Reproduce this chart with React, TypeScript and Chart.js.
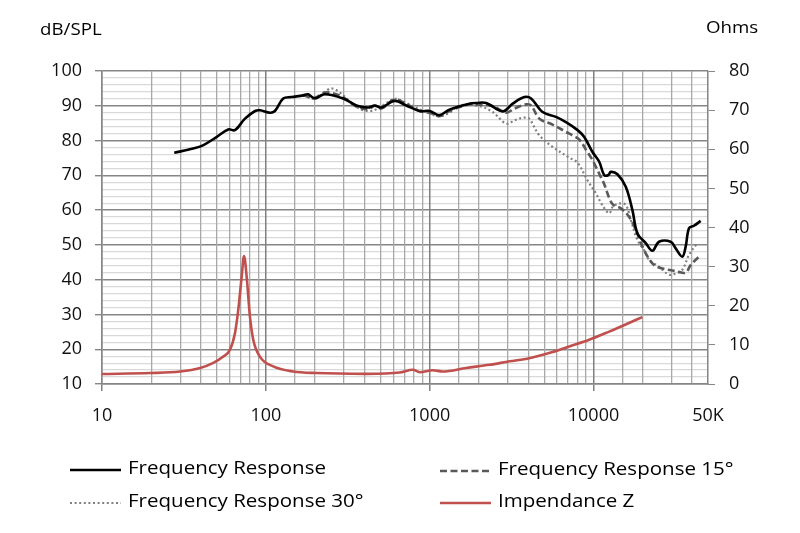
import { useEffect, useRef } from 'react';
import Chart from 'chart.js/auto';

const FONT = "'Open Sans', sans-serif";

// on-axis response (black)
const respFreq = [27.6, 36, 41.6, 50, 59, 64.8, 74.6, 86, 92, 106, 113.6, 127.7, 143.5, 169, 181, 199, 229, 296, 357, 421, 462, 507, 611, 720, 868, 1000, 1148, 1320, 1750, 1924, 2213, 2794, 3213, 3786, 4160, 4890, 5900, 6790, 8000, 8780, 9860, 10840, 11620, 12340, 12760, 14000, 15740, 17280, 18540, 20840, 22870, 25120, 29580, 31740, 34830, 36530, 38280, 41040, 45100];
const respDb = [76.5, 77.7, 78.7, 81.0, 83.2, 83.0, 86.3, 88.5, 88.7, 88.0, 88.5, 92.1, 92.5, 93.0, 93.3, 92.1, 93.3, 92.1, 90.1, 89.5, 90.1, 89.5, 91.4, 90.1, 88.5, 88.5, 87.3, 88.9, 90.6, 90.8, 90.8, 88.4, 90.6, 92.5, 92.1, 88.2, 86.8, 85.3, 83.0, 81.0, 76.7, 73.9, 70.1, 70.1, 71.0, 70.3, 66.7, 60.0, 53.3, 50.5, 48.3, 50.9, 50.9, 49.0, 46.6, 49.5, 54.8, 55.5, 56.9];

// 15 degrees (dashed)
const resp15Freq = [169, 199, 229, 260, 296, 357, 421, 462, 507, 611, 720, 868, 1000, 1148, 1320, 1750, 1924, 2427, 2930, 3290, 3873, 4160, 4670, 5620, 6790, 7640, 8220, 9180, 9860, 10350, 11090, 11620, 12470, 13200, 14700, 16480, 18120, 20360, 23440, 27600, 31740, 36530, 39170, 44030];
const resp15Db = [93.0, 92.3, 93.8, 93.5, 92.5, 89.8, 89.0, 90.0, 89.2, 91.8, 90.5, 88.5, 88.0, 87.0, 88.5, 90.5, 90.4, 89.9, 88.0, 89.2, 90.4, 90.1, 86.3, 84.6, 82.5, 81.2, 80.2, 76.7, 74.4, 72.4, 69.5, 67.5, 63.5, 61.5, 60.5, 58.1, 54.3, 48.5, 44.2, 43.0, 42.5, 42.0, 44.2, 46.6];

// 30 degrees (dotted)
const resp30Freq = [169, 199, 229, 250, 280, 330, 380, 440, 507, 611, 720, 868, 1000, 1148, 1320, 1520, 2015, 2427, 2930, 3365, 3786, 4055, 4670, 5620, 7110, 8000, 9180, 10350, 11300, 12470, 13140, 14330, 15740, 16920, 18540, 20360, 21880, 25120, 29000, 31700, 34830, 38280, 43000];
const resp30Db = [93.0, 92.0, 94.0, 95.0, 94.0, 91.0, 89.0, 88.5, 89.8, 92.0, 90.8, 89.0, 87.8, 87.0, 88.0, 90.1, 89.9, 88.2, 84.9, 86.0, 86.6, 86.3, 81.5, 78.2, 75.1, 73.6, 68.6, 64.8, 61.5, 59.1, 61.0, 61.9, 61.5, 57.1, 51.4, 48.5, 45.7, 43.7, 41.4, 41.8, 42.8, 47.1, 50.5];

// impedance (ohms, right axis)
const impFreq = [10, 19.7, 30, 39.7, 47.8, 55, 60.4, 64.8, 67.9, 71.2, 73.6, 76.4, 80, 83.8, 92, 111, 147, 204, 411, 656, 790, 868, 1046, 1202, 1670, 2317, 3070, 4055, 5370, 7110, 9420, 12470, 16480, 19850];
const impOhm = [2.55, 2.8, 3.2, 4.1, 5.4, 7.0, 8.75, 13.0, 19.0, 27.4, 32.7, 27.4, 17.2, 11.3, 7.0, 4.5, 3.2, 2.8, 2.6, 2.95, 3.65, 3.0, 3.5, 3.2, 4.1, 4.9, 5.8, 6.6, 7.9, 9.6, 11.3, 13.4, 15.6, 17.1];

const xLabelValues = [10, 100, 1000, 10000, 50000];
const xLabelTexts = ['10', '100', '1000', '10000', '50K'];
const seriesNames = ['Frequency Response', 'Frequency Response 15°', 'Frequency Response 30°', 'Impendance Z'];

const isDecade = (v: number) => Math.abs(Math.log10(v) - Math.round(Math.log10(v))) < 1e-6;
const pts = (f: number[], v: number[]) => f.map((x, i) => ({ x, y: v[i] }));

function stretchText(ctx: CanvasRenderingContext2D, text: string, x: number, y: number, sx: number) {
  ctx.save();
  ctx.translate(x, y);
  ctx.scale(sx, 1);
  ctx.fillText(text, 0, 0);
  ctx.restore();
}

const sheetText = {
  id: 'sheetText',
  afterDraw(chart: any) {
    const ctx: CanvasRenderingContext2D = chart.ctx;
    ctx.save();
    ctx.fillStyle = '#000';
    ctx.textBaseline = 'middle';
    ctx.textAlign = 'left';
    ctx.font = `17px ${FONT}`;
    stretchText(ctx, 'dB/SPL', 40, 30, 1.1);
    stretchText(ctx, 'Ohms', 706, 28, 1.1);

    // legend, two columns
    const slots = [[70, 470], [440, 471], [70, 503], [440, 503]];
    chart.data.datasets.forEach((ds: any, i: number) => {
      const [lx, ly] = slots[i];
      ctx.save();
      ctx.strokeStyle = ds.borderColor;
      ctx.lineWidth = ds.borderWidth;
      ctx.setLineDash(ds.borderDash || []);
      ctx.beginPath();
      ctx.moveTo(lx, ly);
      ctx.lineTo(lx + 51, ly);
      ctx.stroke();
      ctx.restore();
      ctx.font = `18px ${FONT}`;
      stretchText(ctx, ds.label, lx + 58, ly - 1, 1.14);
    });
    ctx.restore();
  },
};

export default function App() {
  const canvasRef = useRef<HTMLCanvasElement>(null);
  const chartRef = useRef<Chart | null>(null);

  useEffect(() => {
    if (!canvasRef.current) return;
    if (chartRef.current) chartRef.current.destroy();

    const tickFont = { family: FONT, size: 18 };

    chartRef.current = new Chart(canvasRef.current, {
      type: 'line',
      data: {
        datasets: [
          {
            label: seriesNames[0],
            data: pts(respFreq, respDb),
            borderColor: '#000000',
            borderWidth: 2.6,
            tension: 0.35,
            yAxisID: 'y',
          },
          {
            label: seriesNames[1],
            data: pts(resp15Freq, resp15Db),
            borderColor: '#595959',
            borderWidth: 2.6,
            borderDash: [7, 3.5],
            tension: 0.35,
            yAxisID: 'y',
          },
          {
            label: seriesNames[2],
            data: pts(resp30Freq, resp30Db),
            borderColor: '#808080',
            borderWidth: 2.2,
            borderDash: [2, 2.6],
            tension: 0.35,
            yAxisID: 'y',
          },
          {
            label: seriesNames[3],
            data: pts(impFreq, impOhm),
            borderColor: '#c0504d',
            borderWidth: 2.6,
            cubicInterpolationMode: 'monotone',
            yAxisID: 'y1',
          },
        ],
      },
      options: {
        responsive: false,
        animation: false,
        layout: { padding: { top: 71, left: 0, right: 0, bottom: 0 } },
        elements: {
          point: { radius: 0, hoverRadius: 0 },
          line: { fill: false },
        },
        plugins: {
          legend: { display: false },
          tooltip: { enabled: false },
        },
        scales: {
          y: {
            type: 'linear',
            position: 'left',
            min: 10,
            max: 100,
            afterFit: (s: any) => { s.width = 102; },
            grid: {
              color: (c: any) => (c.tick.value % 10 === 0 ? '#868686' : '#d9d9d9'),
              lineWidth: (c: any) => (c.tick.value % 10 === 0 ? 1.4 : 1.2),
              tickLength: 7,
              tickColor: (c: any) => (c.tick.value % 10 === 0 ? '#868686' : 'transparent'),
            },
            border: { color: '#868686', width: 1.4 },
            ticks: {
              stepSize: 2,
              autoSkip: false,
              padding: 13,
              color: '#111',
              font: tickFont,
              callback: (v: any) => (v % 10 === 0 ? String(v) : ''),
            },
          },
          y1: {
            type: 'linear',
            position: 'right',
            min: 0,
            max: 80,
            afterFit: (s: any) => { s.width = 92; },
            grid: { drawOnChartArea: false, tickLength: 7, tickColor: '#868686' },
            border: { color: '#868686', width: 1.4 },
            ticks: { stepSize: 10, padding: 14, color: '#111', font: tickFont },
          },
          x: {
            type: 'logarithmic',
            min: 10,
            max: 50000,
            afterFit: (s: any) => { s.height = 149; },
            grid: {
              color: (c: any) => (isDecade(c.tick.value) ? '#808080' : '#a8a8a8'),
              lineWidth: (c: any) => (isDecade(c.tick.value) ? 1.5 : 1.3),
              tickLength: 7,
              tickColor: (c: any) => (isDecade(c.tick.value) ? '#808080' : 'transparent'),
            },
            border: { color: '#868686', width: 1.4 },
            ticks: {
              autoSkip: false,
              maxRotation: 0,
              padding: 14,
              color: '#111',
              font: tickFont,
              callback: (v: any) => {
                const i = xLabelValues.indexOf(Number(v));
                return i >= 0 ? xLabelTexts[i] : '';
              },
            },
          },
        },
      },
      plugins: [sheetText],
    });

    return () => {
      if (chartRef.current) {
        chartRef.current.destroy();
        chartRef.current = null;
      }
    };
  }, []);

  return (
    <div style={{ position: 'fixed', left: 0, top: 0, width: 800, height: 533, background: '#fff' }}>
      <canvas ref={canvasRef} width={800} height={533} />
    </div>
  );
}
